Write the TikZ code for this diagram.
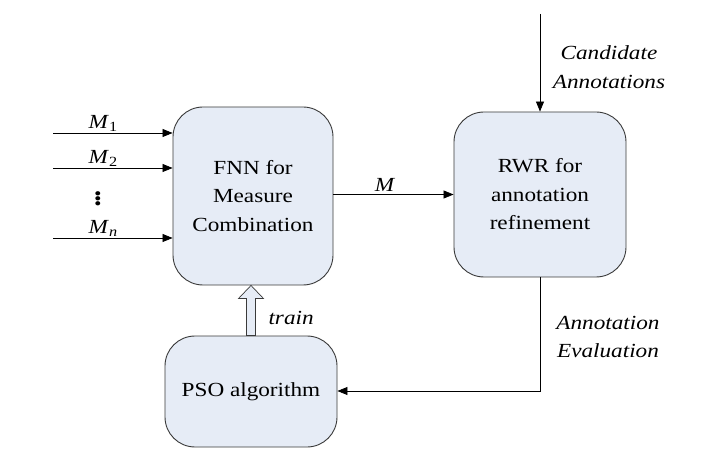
\documentclass[tikz,border=0pt]{standalone}
\usepackage{fontspec}
\setmainfont{Liberation Serif}[FakeStretch=1.16]
\usetikzlibrary{arrows.meta,calc}

\definecolor{boxfill}{HTML}{E6ECF6}
\definecolor{boxline}{HTML}{3A3A3A}

\tikzset{
	block/.style={draw=boxline, fill=boxfill, rounded corners=30pt, line width=0.9pt,
		align=center, inner sep=0pt, font=\rmfamily\fontsize{20}{28.5}\selectfont},
	link/.style={line width=0.7pt, -{Triangle[length=10pt,width=8pt]}},
	lab/.style={font=\rmfamily\itshape\fontsize{20}{28.5}\selectfont, align=center},
	inlab/.style={font=\rmfamily\fontsize{20}{22}\selectfont}
}

\begin{document}
\begin{tikzpicture}[x=1pt,y=-1pt]
	\useasboundingbox (0,0) rectangle (710,449);
	\node[block, minimum width=160pt, minimum height=178pt] (fnn) at (253,196) {FNN for\\Measure\\Combination};
	\node[block, minimum width=172pt, minimum height=165pt] (rwr) at (540,194.5) {RWR for\\annotation\\refinement};
	\node[block, minimum width=172pt, minimum height=111pt] (pso) at (251,391.5) {PSO algorithm};
	\coordinate (in1) at (53,133);
	\coordinate (in2) at (53,168);
	\coordinate (inn) at (53,238);
	\coordinate (cand) at (540,14);
	\coordinate (corner) at (540,391);
	\coordinate (tip) at (pso.north |- fnn.south);
	\draw[link] (in1) -- (in1 -| fnn.west) node[pos=0.42, above, inlab, inner sep=1pt] {\textit{M}\textsubscript{1}};
	\draw[link] (in2) -- (in2 -| fnn.west) node[pos=0.42, above, inlab, inner sep=1pt] {\textit{M}\textsubscript{2}};
	\draw[link] (inn) -- (inn -| fnn.west) node[pos=0.42, above, inlab, inner sep=1pt] {\textit{M}\textsubscript{\textit{n}}};
	\node[font=\bfseries\fontsize{26}{26}\selectfont, inner sep=0pt] (dots) at (98,196) {$\vdots$};
	\draw[link] (fnn.east |- rwr.west) -- (rwr.west) node[pos=0.43, above, inlab, inner sep=3pt] {\textit{M}};
	\draw[link] (cand) -- (rwr.north);
	\node[lab] (candlab) at (609,67) {Candidate\\Annotations};
	\draw[link] (rwr.south) -- (corner) -- (corner -| pso.east);
	\node[lab] (evallab) at (608,337) {Annotation\\Evaluation};
	% hollow train arrow
	\draw[draw=boxline, fill=boxfill, line width=0.7pt]
		($(pso.north)+(-4.5,0)$) -- ++(0,-37) -- ++(-8,0) -- (tip) -- ($(pso.north)+(12.5,-37)$)
		-- ++(-8,0) -- ($(pso.north)+(4.5,0)$) -- cycle;
	\node[lab, anchor=west] (trainlab) at (265,318) {train};
\end{tikzpicture}
\end{document}
